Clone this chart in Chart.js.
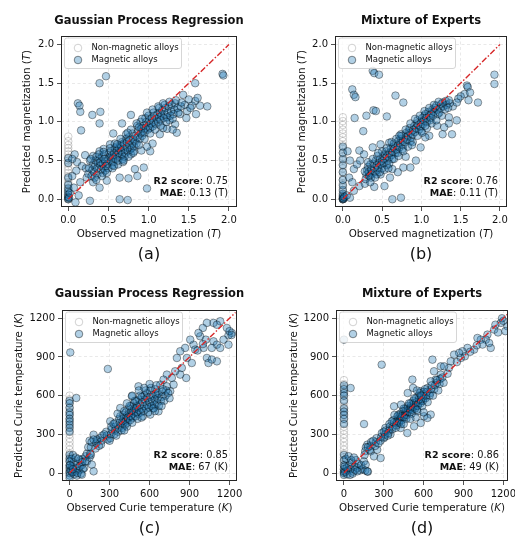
<!DOCTYPE html>
<html><head><meta charset="utf-8">
<script src="https://cdn.jsdelivr.net/npm/chart.js@4/dist/chart.umd.min.js"></script>
<style>
html,body{margin:0;padding:0;background:#fff;width:515px;height:541px;overflow:hidden;font-family:'DejaVu Sans',sans-serif}
canvas{position:absolute;display:block}
</style></head><body>
<canvas id="ca" width="257" height="270" style="left:0;top:0"></canvas>
<canvas id="cb" width="258" height="270" style="left:257px;top:0"></canvas>
<canvas id="cc" width="257" height="271" style="left:0;top:270px"></canvas>
<canvas id="cd" width="258" height="271" style="left:257px;top:270px"></canvas>
<script>
// ---------- tick labels ----------
const magTicks = [0.0, 0.5, 1.0, 1.5, 2.0];
const curieTicks = [0, 300, 600, 900, 1200];
const magDiag = [[0,0],[2,2]];
const curieDiag = [[0,0],[1245,1245]];

// ---------- (a) GPR magnetization ----------
const gprMagNonMagnetic = [[0,0.00],[0,0.03],[0,0.06],[0,0.09],[0,0.12],[0,0.15],[0,0.18],[0,0.22],[0,0.26],[0,0.30],[0,0.34],[0,0.38],[0,0.42],[0,0.46],[0,0.50],[0,0.54],[0,0.58],[0,0.62],[0,0.66],[0,0.70],[0,0.75],[0,0.81]];
const gprMagMagnetic = [
[0,0.00],[0,0.01],[0,0.03],[0,0.06],[0,0.10],[0,0.14],[0,0.19],[0,0.28],[0,0.47],[0,0.53],[0.01,0.02],[0.02,0.08],
[0.47,1.59],[0.39,1.50],[0.12,1.24],[0.14,1.21],[0.15,1.13],[0.30,1.09],[0.40,1.13],[0.39,0.98],[0.16,0.89],[0.78,1.09],[0.67,0.98],[0.56,0.85],
[1.92,1.62],[1.93,1.60],[1.58,1.50],[1.73,1.20],[1.64,1.21],[1.58,1.27],[1.61,1.31],[1.43,1.35],[1.50,1.29],[1.54,1.21],[1.59,1.10],[1.48,1.14],[1.39,1.10],
[1.33,0.97],[1.35,0.86],[1.23,0.91],[1.14,0.84],[0.98,0.14],[0.64,0.00],[0.74,-0.01],[0.27,-0.02],[0.09,-0.04],[0.83,0.39],[0.86,0.30],[0.75,0.27],[0.64,0.28],
[0.94,0.41],[0.48,0.24],[0.39,0.15],[0.31,0.22],[0.23,0.28],[0.15,0.22],[0.10,0.37],[0.21,0.57],[0.11,0.48],[0.08,0.58],[0.17,0.43],[0.27,0.50],[0.31,0.56],
[0.44,0.65],[0.39,0.62],[0.52,0.71],[1.02,0.62],[0.98,0.68],[1.05,0.72],[0.91,0.63],[1.45,1.22],[1.52,1.18],[1.47,1.05],[1.26,1.02],[1.30,0.90],[1.18,0.92],
[0.05,0.52],[0.22,0.40],[0.25,0.33],[0.05,0.30],[0.13,0.05],[0.07,0.15],
[0.30,0.38],[0.31,0.45],[0.29,0.30],[0.33,0.42],[0.34,0.50],[0.32,0.35],[0.36,0.40],[0.37,0.47],[0.35,0.55],[0.36,0.32],
[0.40,0.44],[0.41,0.38],[0.39,0.52],[0.40,0.48],[0.43,0.46],[0.44,0.40],[0.42,0.55],[0.43,0.34],[0.46,0.49],[0.47,0.43],[0.45,0.58],[0.46,0.37],
[0.50,0.52],[0.49,0.46],[0.51,0.60],[0.50,0.40],[0.52,0.55],[0.53,0.50],[0.54,0.56],[0.53,0.62],[0.55,0.44],[0.56,0.54],[0.57,0.60],[0.56,0.48],[0.58,0.66],
[0.60,0.57],[0.61,0.63],[0.59,0.52],[0.60,0.68],[0.62,0.45],[0.63,0.60],[0.64,0.55],[0.63,0.66],[0.65,0.70],[0.66,0.62],[0.67,0.58],[0.66,0.68],[0.68,0.52],[0.67,0.74],
[0.70,0.65],[0.71,0.60],[0.69,0.72],[0.70,0.55],[0.72,0.78],[0.73,0.67],[0.74,0.62],[0.73,0.74],[0.75,0.80],[0.76,0.70],[0.77,0.64],[0.76,0.76],[0.78,0.58],
[0.80,0.72],[0.81,0.78],[0.79,0.66],[0.80,0.85],[0.83,0.75],[0.84,0.82],[0.82,0.68],[0.86,0.80],[0.87,0.88],[0.85,0.72],[0.86,0.95],
[0.90,0.85],[0.91,0.92],[0.89,0.78],[0.90,1.00],[0.93,0.88],[0.94,0.95],[0.92,0.82],[0.96,0.92],[0.97,1.00],[0.95,0.86],[0.96,1.05],
[1.00,0.95],[1.01,1.02],[0.99,0.90],[1.00,1.08],[1.03,0.98],[1.04,1.05],[1.02,0.92],[1.06,1.00],[1.07,1.08],[1.05,0.94],[1.06,1.12],
[1.10,1.04],[1.11,1.10],[1.09,0.97],[1.13,1.06],[1.14,1.12],[1.12,1.00],[1.13,1.18],[1.16,1.08],[1.17,1.15],[1.15,1.02],
[1.20,1.10],[1.21,1.18],[1.19,1.05],[1.20,1.22],[1.24,1.12],[1.25,1.20],[1.23,1.06],[1.28,1.14],[1.29,1.22],[1.27,1.08],
[1.32,1.16],[1.33,1.24],[1.31,1.10],[1.36,1.18],[1.37,1.12],[1.40,1.20],[1.41,1.25],
[0.33,0.28],[0.38,0.58],[0.42,0.30],[0.45,0.52],[0.48,0.34],[0.52,0.66],[0.55,0.40],[0.58,0.72],[0.62,0.50],[0.65,0.78],[0.68,0.48],[0.72,0.84],
[0.75,0.55],[0.78,0.90],[0.82,0.62],[0.85,0.98],[0.88,0.70],[0.92,1.04],[0.95,0.78],[0.98,1.12],[1.02,0.85],[1.05,1.16],[1.08,0.90],[1.12,1.20],
[1.15,0.95],[1.18,1.24],[1.22,1.00],[1.26,1.26],[1.30,1.04],[1.34,1.28],[0.28,0.52],[0.26,0.40],[0.35,0.25],[0.44,0.61],[0.57,0.43],[0.61,0.71],
[0.69,0.50],[0.74,0.86],[0.81,0.60],[0.88,0.93]
];

// ---------- (b) MoE magnetization ----------
const moeMagNonMagnetic = [[0,0.00],[0,0.05],[0,0.10],[0,0.15],[0,0.20],[0,0.25],[0,0.30],[0,0.35],[0,0.40],[0,0.45],[0,0.50],[0,0.55],[0,0.60],[0,0.65],[0,0.70],[0,0.75],[0,0.80],[0,0.85],[0,0.90],[0,0.96],[0,1.01],[0,1.06]];
const moeMagMagnetic = [
[0,0.00],[0,0.00],[0,0.01],[0,0.02],[0,0.04],[0,0.07],[0,0.12],[0,0.18],[0,0.25],[0,0.35],[0,0.44],[0,0.52],[0,0.60],[0,0.68],[0.01,0.01],[0.02,0.03],
[0.38,1.66],[0.40,1.63],[0.46,1.61],[1.93,1.61],[1.93,1.49],[1.58,1.47],[1.59,1.45],[0.12,1.42],[0.14,1.35],[0.16,1.32],[0.67,1.34],[0.77,1.25],
[0.39,1.15],[0.42,1.14],[0.30,1.08],[0.56,1.07],[0.15,1.05],[0.26,0.88],[1.72,1.25],[1.55,1.36],[1.50,1.33],[1.62,1.38],[1.47,1.30],[1.60,1.28],
[1.35,0.98],[1.29,0.93],[1.39,0.84],[1.27,0.84],[1.35,1.06],[1.45,1.02],[0.63,0.00],[0.74,0.02],[0.40,0.16],[0.53,0.17],[0.77,0.41],[0.86,0.41],
[0.93,0.50],[0.63,0.39],[0.48,0.32],[0.21,0.17],[0.33,0.30],[0.09,0.50],[0.14,0.39],[0.21,0.63],[0.27,0.58],[0.08,0.28],[0.14,0.11],[0.09,0.02],
[0.48,0.71],[0.59,0.73],[0.38,0.67],[0.99,0.67],[1.10,0.82],[0.06,0.62],[0.18,0.45],[0.22,0.50],[0.12,0.22],[0.05,0.05],[0.28,0.20],[0.60,0.28],
[0.70,0.35],[0.80,0.55],[1.05,0.80],[1.20,0.95],[1.40,1.20],[1.45,1.25],
[0.30,0.32],[0.31,0.38],[0.29,0.26],[0.33,0.35],[0.34,0.30],[0.32,0.42],[0.36,0.38],[0.37,0.33],[0.35,0.45],[0.36,0.28],
[0.40,0.40],[0.39,0.46],[0.41,0.35],[0.43,0.44],[0.44,0.38],[0.42,0.50],[0.43,0.32],[0.46,0.46],[0.47,0.52],[0.45,0.41],
[0.50,0.50],[0.49,0.45],[0.51,0.56],[0.50,0.40],[0.53,0.52],[0.54,0.58],[0.52,0.47],[0.56,0.56],[0.57,0.50],[0.55,0.62],[0.56,0.44],
[0.60,0.60],[0.59,0.54],[0.61,0.66],[0.63,0.62],[0.64,0.68],[0.62,0.57],[0.63,0.52],[0.66,0.66],[0.67,0.60],[0.65,0.72],
[0.70,0.70],[0.69,0.64],[0.71,0.76],[0.70,0.60],[0.73,0.72],[0.74,0.78],[0.72,0.67],[0.76,0.76],[0.77,0.70],[0.75,0.82],[0.76,0.65],
[0.80,0.80],[0.79,0.74],[0.81,0.86],[0.83,0.82],[0.84,0.88],[0.82,0.77],[0.86,0.86],[0.87,0.80],[0.85,0.92],[0.86,0.75],
[0.90,0.90],[0.89,0.84],[0.91,0.95],[0.93,0.92],[0.94,0.98],[0.92,0.87],[0.96,0.96],[0.97,0.90],[0.95,1.02],
[1.00,1.00],[0.99,0.94],[1.01,1.05],[1.00,0.88],[1.03,1.02],[1.04,1.08],[1.02,0.97],[1.06,1.05],[1.07,1.00],[1.05,1.10],
[1.10,1.08],[1.09,1.13],[1.11,1.02],[1.13,1.11],[1.14,1.16],[1.12,1.05],[1.16,1.13],[1.17,1.18],[1.15,1.08],
[1.20,1.16],[1.19,1.21],[1.21,1.10],[1.24,1.18],[1.25,1.23],[1.23,1.12],[1.28,1.20],[1.27,1.25],[1.32,1.22],[1.31,1.27],[1.36,1.24],[1.35,1.28],
[0.32,0.48],[0.35,0.22],[0.38,0.52],[0.41,0.28],[0.44,0.56],[0.47,0.35],[0.50,0.62],[0.53,0.38],[0.56,0.66],[0.59,0.46],[0.62,0.74],[0.65,0.52],
[0.68,0.78],[0.71,0.56],[0.74,0.84],[0.77,0.62],[0.80,0.90],[0.83,0.68],[0.86,0.98],[0.89,0.74],[0.92,1.04],[0.95,0.82],[0.98,1.08],[1.01,0.86],
[1.04,1.14],[1.07,0.92],[1.10,1.18],[1.13,0.98],[1.16,1.22],[1.19,1.02],[1.22,1.26],[1.26,1.08],[1.30,1.16],[1.34,1.18],[0.28,0.36],[0.45,0.60],
[0.58,0.40],[0.72,0.82],[0.88,0.70],[1.05,0.95]
];

// ---------- (c) GPR Curie temperature ----------
const gprCurieNonMagnetic = [[0,0],[0,30],[0,60],[0,90],[0,120],[0,150],[0,180],[0,210],[0,240],[0,270],[0,300],[0,330],[0,360],[0,390],[0,420],[0,450],[0,480],[0,510],[0,540],[0,570],[0,600]];
const gprCurieMagnetic = [
[0,560],[0,540],[0,505],[0,470],[0,450],[0,420],[0,400],[0,375],[0,350],[0,320],[0,140],[0,110],[0,90],[0,60],[0,40],[0,15],[0,0],[0,-20],[0,-40],
[10,20],[20,50],[30,80],[40,10],[50,40],[60,70],[70,20],[80,100],[90,60],[100,110],[110,40],[120,130],[130,90],[35,-10],[55,-20],
[15,110],[25,140],[45,120],[65,110],[75,50],[85,-5],[100,30],[130,150],[150,120],[160,140],[20,5],[5,60],[60,0],[95,85],[25,30],
[5,935],[287,807],[50,582],[1030,1164],[1080,1164],[1130,1177],[1105,1150],[1000,1125],[1180,1125],[1217,1086],[1192,1068],[1155,1034],
[1080,1021],[1105,995],[1130,970],[1067,970],[1192,995],[1030,892],[1042,853],[1105,866],[1067,880],[930,995],[942,957],[880,892],
[917,853],[980,1060],[967,1086],[1022,1034],[1005,970],[905,1034],[867,970],[830,944],[805,892],[842,815],[875,737],[830,763],
[792,789],[767,737],[730,763],[705,724],[680,685],[755,634],[655,608],[630,504],[667,478],[605,453],[730,672],[780,685],
[517,672],[467,595],[380,504],[305,401],[230,272],[180,297],[205,246],[117,90],[167,65],[180,13],[92,-13],[150,250],[140,200],
[1200,1100],[1215,1070],[960,950],[1000,1000],
[160,200],[165,240],[155,150],[200,230],[205,260],[195,190],[240,250],[245,290],[235,220],[280,290],[285,260],[275,320],
[310,300],[315,340],[305,270],[312,360],[340,330],[345,360],[335,300],[342,390],[370,350],[375,390],[365,320],[372,420],
[400,380],[405,420],[395,350],[402,450],[398,400],[420,400],[425,440],[415,370],[422,470],[440,420],[445,460],[435,390],[442,500],[438,430],
[460,440],[465,480],[455,410],[462,520],[480,460],[485,500],[475,430],[482,540],[478,480],[500,470],[505,520],[495,440],[502,560],[498,500],
[520,490],[525,530],[515,460],[522,570],[540,500],[545,550],[535,470],[542,590],[560,520],[565,570],[555,480],[562,600],
[580,530],[585,580],[575,500],[582,620],[600,550],[605,590],[595,510],[602,640],[620,560],[625,600],[615,520],
[640,570],[645,610],[635,530],[642,650],[660,580],[665,620],[655,540],[690,590],[695,630],[685,560],[720,600],[725,640],
[180,260],[220,210],[260,300],[300,250],[330,380],[350,290],[380,440],[390,330],[410,480],[430,360],[450,520],[470,390],
[490,560],[510,420],[530,600],[550,440],[570,640],[590,470],[610,660],[630,500],[650,680],[670,520],[700,650],[710,560],
[740,620],[750,580],[470,600],[520,640],[430,540],[360,460],[560,660],[600,690],[540,430],[410,330],[640,480],[690,520]
];

// ---------- (d) MoE Curie temperature ----------
const moeCurieNonMagnetic = [[0,0],[0,30],[0,60],[0,90],[0,120],[0,150],[0,180],[0,210],[0,240],[0,270],[0,300],[0,330],[0,360],[0,390],[0,420],[0,450],[0,480],[0,510],[0,540],[0,570],[0,600],[0,630],[0,660],[0,690],[0,720]];
const moeCurieMagnetic = [
[0,680],[0,650],[0,620],[0,600],[0,560],[0,500],[0,475],[0,450],[0,420],[0,380],[0,140],[0,100],[0,60],[0,30],[0,10],[0,0],[0,-15],
[10,10],[20,40],[30,20],[40,60],[50,30],[60,80],[70,10],[80,50],[90,100],[100,40],[110,70],[120,20],[140,30],[160,20],[180,10],
[15,110],[35,130],[55,100],[25,-10],[45,-15],[65,-5],[85,25],[130,60],[150,90],[5,50],[75,120],
[0,1034],[284,840],[50,659],[151,380],[515,724],[666,879],[729,827],[1181,1164],[1231,1138],[1131,1112],[1080,1073],[1068,1034],
[1105,970],[1093,1008],[1030,1034],[1043,996],[1005,1047],[980,957],[930,970],[892,944],[910,905],[880,892],[867,931],[829,918],
[804,866],[791,815],[754,827],[729,763],[691,724],[678,789],[653,711],[628,659],[578,634],[653,453],[603,440],[628,427],
[553,478],[578,388],[528,362],[477,310],[427,349],[377,517],[176,220],[201,168],[226,129],[276,116],[163,65],[176,13],[100,13],
[1200,1180],[1215,1100],[1160,1090],[1000,990],[950,940],[850,860],[780,770],[700,700],[1140,1150],[1190,1200],[250,180],[300,270],[350,300],
[160,170],[165,200],[155,140],[200,210],[205,240],[195,180],[240,240],[245,270],[235,210],[280,280],[285,310],[275,250],
[310,300],[315,330],[305,280],[312,350],[340,330],[345,360],[335,310],[342,380],[370,360],[375,390],[365,340],[372,410],
[400,390],[405,420],[395,370],[402,440],[398,400],[420,410],[425,440],[415,390],[422,460],[440,430],[445,460],[435,410],[442,480],[438,440],
[460,450],[465,480],[455,430],[462,500],[480,470],[485,500],[475,450],[482,520],[478,480],[500,490],[505,520],[495,470],[502,540],[498,500],
[520,510],[525,540],[515,490],[522,560],[540,520],[545,550],[535,500],[542,580],[560,540],[565,570],[555,520],[562,600],
[580,560],[585,590],[575,540],[600,580],[605,610],[595,560],[602,630],[620,600],[625,630],[615,580],
[650,620],[655,650],[645,600],[680,650],[685,680],[720,690],[725,730],
[180,200],[220,250],[260,230],[300,320],[330,290],[360,400],[390,350],[410,450],[430,380],[450,500],[470,420],[490,540],
[510,460],[530,580],[550,490],[570,620],[590,520],[610,650],[630,550],[660,680],[670,600],[700,720],[710,640],[740,740],
[750,700],[480,620],[520,660],[430,530],[550,640],[580,600],[540,430],[600,470],[450,380],[500,420],[380,450]
];

// ---------- text ----------
const titles = ['Gaussian Process Regression', 'Mixture of Experts', 'Gaussian Process Regression', 'Mixture of Experts'];
const r2Scores = ['0.75', '0.76', '0.85', '0.86'];
const maeValues = ['0.13 (T)', '0.11 (T)', '67 (K)', '49 (K)'];
const panelLabels = ['(a)', '(b)', '(c)', '(d)'];
const legendLabels = ['Non-magnetic alloys', 'Magnetic alloys'];

// ---------- layout ----------
const FONT = "'DejaVu Sans'";
const panels = [
  {id:'ca', w:257, h:270, L:61, R:237, T:36, B:207, xr:[-0.09,2.1], yr:[-0.1,2.11], kind:'mag', non:gprMagNonMagnetic, mag:gprMagMagnetic, ylOff:31, tOff:11.7},
  {id:'cb', w:258, h:270, L:78, R:250, T:36, B:207, xr:[-0.1,2.09], yr:[-0.1,2.11], kind:'mag', non:moeMagNonMagnetic, mag:moeMagMagnetic, ylOff:30, tOff:11.7},
  {id:'cc', w:257, h:271, L:62, R:237, T:40, B:211, xr:[-57,1256], yr:[-62,1264], kind:'curie', non:gprCurieNonMagnetic, mag:gprCurieMagnetic, ylOff:40, tOff:13},
  {id:'cd', w:258, h:271, L:79, R:251, T:40, B:211, xr:[-60,1235], yr:[-62,1264], kind:'curie', non:moeCurieNonMagnetic, mag:moeCurieMagnetic, ylOff:39, tOff:13}
];

const MAG_FILL = 'rgba(31,119,180,0.35)', MAG_EDGE = 'rgba(0,0,0,0.55)';
const NON_EDGE = 'rgba(130,130,130,0.45)';
const RADIUS = 3.8;

function drawParts(ctx, parts, x, y, align) {
  const ws = parts.map(p => { ctx.font = p[1]; return ctx.measureText(p[0]).width; });
  const tot = ws.reduce((a, b) => a + b, 0);
  let s = align === 'right' ? x - tot : align === 'center' ? x - tot / 2 : x;
  parts.forEach((p, i) => { ctx.font = p[1]; ctx.fillText(p[0], s, y); s += ws[i]; });
}

function decor(i, p) {
  return {
    id: 'decor' + i,
    afterDraw(chart) {
      const ctx = chart.ctx, a = chart.chartArea;
      const cx = (a.left + a.right) / 2, cy = (a.top + a.bottom) / 2;
      ctx.save();
      ctx.strokeStyle = '#262626'; ctx.lineWidth = 1;
      ctx.strokeRect(Math.round(a.left) + 0.5, Math.round(a.top) + 0.5, Math.round(a.right - a.left) - 1, Math.round(a.bottom - a.top) - 1);
      const lx = a.left + 3.5, ly = a.top + 2, lw = 117, lh = 30.5, r = 2.5;
      ctx.beginPath();
      ctx.moveTo(lx + r, ly); ctx.lineTo(lx + lw - r, ly); ctx.arcTo(lx + lw, ly, lx + lw, ly + r, r);
      ctx.lineTo(lx + lw, ly + lh - r); ctx.arcTo(lx + lw, ly + lh, lx + lw - r, ly + lh, r);
      ctx.lineTo(lx + r, ly + lh); ctx.arcTo(lx, ly + lh, lx, ly + lh - r, r);
      ctx.lineTo(lx, ly + r); ctx.arcTo(lx, ly, lx + r, ly, r); ctx.closePath();
      ctx.fillStyle = 'rgba(255,255,255,0.8)'; ctx.fill();
      ctx.strokeStyle = '#cccccc'; ctx.lineWidth = 0.8; ctx.stroke();
      const mx = a.left + 17, my1 = a.top + 12, my2 = a.top + 24;
      ctx.beginPath(); ctx.arc(mx, my1, RADIUS, 0, Math.PI * 2);
      ctx.strokeStyle = NON_EDGE; ctx.lineWidth = 0.8; ctx.stroke();
      ctx.beginPath(); ctx.arc(mx, my2, RADIUS, 0, Math.PI * 2);
      ctx.fillStyle = MAG_FILL; ctx.fill(); ctx.strokeStyle = MAG_EDGE; ctx.stroke();
      ctx.fillStyle = '#111'; ctx.textBaseline = 'middle'; ctx.textAlign = 'left';
      ctx.font = '8.5px ' + FONT;
      ctx.fillText(legendLabels[0], a.left + 30.5, my1);
      ctx.fillText(legendLabels[1], a.left + 30.5, my2);
      ctx.textBaseline = 'alphabetic';
      drawParts(ctx, [['R2 score', 'bold 9.5px ' + FONT], [': ' + r2Scores[i], '9.8px ' + FONT]], a.right - 9, a.bottom - 23, 'right');
      drawParts(ctx, [['MAE', 'bold 9.5px ' + FONT], [': ' + maeValues[i], '9.8px ' + FONT]], a.right - 9, a.bottom - 11.5, 'right');
      drawParts(ctx, [[titles[i], 'bold 11.5px ' + FONT]], cx, a.top - p.tOff, 'center');
      const q = p.kind === 'mag' ? ['magnetization', 'T'] : ['Curie temperature', 'K'];
      const f = '10.3px ' + FONT, fi = 'italic 10.3px ' + FONT;
      drawParts(ctx, [['Observed ' + q[0] + ' (', f], [q[1], fi], [')', f]], cx, a.bottom + 30, 'center');
      ctx.save();
      ctx.translate(a.left - p.ylOff, cy); ctx.rotate(-Math.PI / 2);
      drawParts(ctx, [['Predicted ' + q[0] + ' (', f], [q[1], fi], [')', f]], 0, 0, 'center');
      ctx.restore();
      drawParts(ctx, [[panelLabels[i], '16px ' + FONT]], cx, a.bottom + 52, 'center');
      ctx.restore();
    }
  };
}

function axis(p, isX) {
  const ticks = p.kind === 'mag' ? magTicks : curieTicks;
  const rng = isX ? p.xr : p.yr;
  return {
    type: 'linear', min: rng[0], max: rng[1],
    afterBuildTicks: s => { s.ticks = ticks.map(v => ({value: v})); },
    afterFit: s => {
      if (isX) { s.height = p.h - p.B; s.paddingLeft = 0; s.paddingRight = 0; }
      else { s.width = p.L; s.paddingTop = 0; s.paddingBottom = 0; }
    },
    ticks: {
      callback: v => p.kind === 'mag' ? Number(v).toFixed(1) : String(v),
      font: {family: 'DejaVu Sans', size: 10}, color: '#111', padding: 3,
      maxRotation: 0, minRotation: 0, autoSkip: false
    },
    grid: {color: 'rgba(0,0,0,0.11)', lineWidth: 0.8, tickColor: '#262626', tickLength: 4, tickWidth: 0.8, tickBorderDash: []},
    border: {display: false, dash: [3, 2.5]}
  };
}

const toXY = arr => arr.map(([x, y]) => ({x, y}));

panels.forEach((p, i) => {
  new Chart(document.getElementById(p.id), {
    type: 'scatter',
    data: {
      datasets: [
        {label: legendLabels[0], data: toXY(p.non), pointRadius: RADIUS, backgroundColor: 'rgba(255,255,255,0)', borderColor: NON_EDGE, borderWidth: 0.8, order: 3, clip: 0},
        {label: legendLabels[1], data: toXY(p.mag), pointRadius: RADIUS, backgroundColor: MAG_FILL, borderColor: MAG_EDGE, borderWidth: 0.7, order: 2, clip: 0},
        {label: 'y = x', data: toXY(p.kind === 'mag' ? magDiag : curieDiag), showLine: true, pointRadius: 0, borderColor: '#d62728', borderWidth: 1.4, borderDash: [6, 2, 1.5, 2], order: 1, clip: 0}
      ]
    },
    options: {
      responsive: false, animation: false, events: [], devicePixelRatio: 1,
      layout: {padding: {left: 0, top: p.T, right: p.w - p.R, bottom: 0}},
      plugins: {legend: {display: false}, tooltip: {enabled: false}},
      scales: {x: axis(p, true), y: axis(p, false)}
    },
    plugins: [decor(i, p)]
  });
});
</script>
</body></html>
